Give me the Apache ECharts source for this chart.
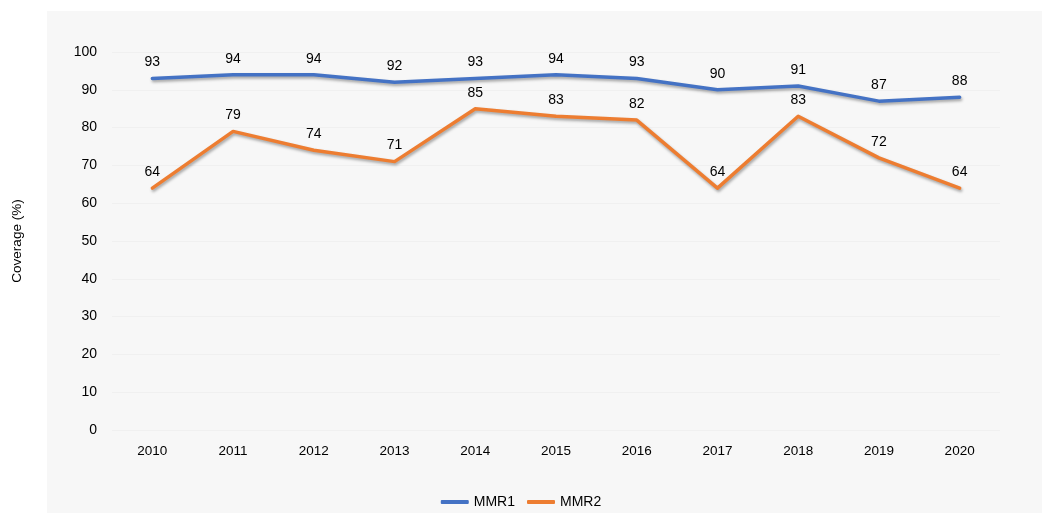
<!DOCTYPE html>
<html><head><meta charset="utf-8">
<script src="https://cdn.jsdelivr.net/npm/echarts@6/dist/echarts.min.js"></script>
<style>html,body{margin:0;padding:0;background:#fff;}#bg{position:absolute;left:47px;top:11px;width:995px;height:502px;background:#f7f7f7;}#c{position:absolute;left:0;top:0;width:1042px;height:514px;}</style>
</head><body><div id="bg"></div><div id="c"></div>
<script>
const years = ['2010','2011','2012','2013','2014','2015','2016','2017','2018','2019','2020'];
const mmr1 = [93,94,94,92,93,94,93,90,91,87,88];
const mmr2 = [64,79,74,71,85,83,82,64,83,72,64];
const chart = echarts.init(document.getElementById('c'));
const font = 'Liberation Sans, Arial, sans-serif';
function s(name, data, color){
  return {name, type:'line', data, symbol:'circle', symbolSize:0, showSymbol:true, smooth:false,
    lineStyle:{color, width:3.5, shadowColor:'rgba(0,0,0,0.35)', shadowBlur:3, shadowOffsetX:1, shadowOffsetY:2, cap:'round', join:'round'},
    itemStyle:{color},
    label:{show:true, position:'top', distance:9, color:'#000', fontSize:14, fontFamily:font},
    emphasis:{disabled:true}};
}
chart.setOption({
  animation:false,
  textStyle:{fontFamily:font},
  grid:{left:112, right:42, top:52, bottom:84},
  xAxis:{type:'category', data:years, boundaryGap:true,
    axisLine:{show:false}, axisTick:{show:false},
    axisLabel:{color:'#000', fontSize:13.5, margin:14, fontFamily:font}},
  yAxis:{type:'value', min:0, max:100, interval:10,
    name:'Coverage (%)', nameLocation:'middle', nameGap:88, nameRotate:90,
    nameTextStyle:{color:'#000', fontSize:13.5, fontFamily:font},
    axisLine:{show:false}, axisTick:{show:false},
    axisLabel:{color:'#000', fontSize:14, margin:15, fontFamily:font},
    splitLine:{lineStyle:{color:'#f0f0f0', width:1}}},
  legend:{bottom:0, left:'center', itemWidth:28, itemHeight:4, itemGap:12,
    icon:'roundRect',
    textStyle:{color:'#000', fontSize:14, fontFamily:font},
    data:['MMR1','MMR2']},
  series:[s('MMR1', mmr1, '#4472C4'), s('MMR2', mmr2, '#ED7D31')]
});
</script></body></html>
